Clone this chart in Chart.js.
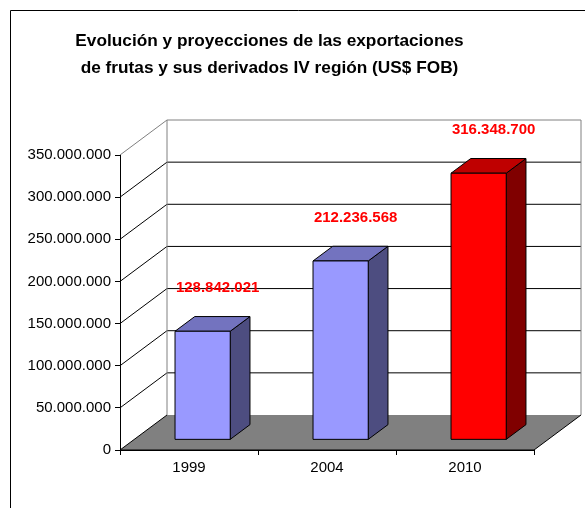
<!DOCTYPE html>
<html><head><meta charset="utf-8">
<script src="https://cdn.jsdelivr.net/npm/chart.js@4.4.1/dist/chart.umd.min.js"></script>
<style>html,body{margin:0;padding:0;background:#fff}#wrap{width:585px;height:508px;position:relative}</style>
</head><body><div id="wrap"><canvas id="c" width="585" height="508"></canvas></div>
<script>
const categories = ['1999', '2004', '2010'];
const exportValues = [128842021, 212236568, 316348700];
const yTickValues = [0, 50000000, 100000000, 150000000, 200000000, 250000000, 300000000, 350000000];
const titleLines = ['Evolución y proyecciones de las exportaciones', 'de frutas y sus derivados IV región (US$ FOB)'];

const FONT = '"Liberation Sans", Arial, Helvetica, sans-serif';
const DEPTH = {x: 47, y: -35};          // 3D depth vector of the plot box
const BAR_FRONT = 0.29, BAR_BACK = 0.71; // bar depth fractions
const barStyles = [
  {front: '#9999FF', top: '#7373BF', side: '#4D4D80'},
  {front: '#9999FF', top: '#7373BF', side: '#4D4D80'},
  {front: '#FF0000', top: '#BF0000', side: '#800000'}
];
const fmt = v => String(Math.round(v)).replace(/\B(?=(\d{3})+(?!\d))/g, '.');

const box3d = {
  id: 'box3d',
  beforeDraw(chart) {
    const ctx = chart.ctx, a = chart.chartArea, ys = chart.scales.y;
    ctx.save();
    ctx.fillStyle = '#fff';
    ctx.fillRect(0, 0, chart.width, chart.height);
    // outer frame
    ctx.strokeStyle = '#000'; ctx.lineWidth = 1;
    ctx.beginPath(); ctx.moveTo(10.5, chart.height + 5); ctx.lineTo(10.5, 10.5); ctx.lineTo(chart.width + 5, 10.5); ctx.stroke();
    const dx = DEPTH.x, dy = DEPTH.y;
    const top = ys.getPixelForValue(ys.max), bot = ys.getPixelForValue(0);
    // back wall
    ctx.fillStyle = '#fff';
    ctx.fillRect(a.left + dx, top + dy, a.right - a.left, bot - top);
    // gridlines on back wall + side wall
    yTickValues.forEach(v => {
      const py = ys.getPixelForValue(v);
      if (v === 0) return;
      ctx.strokeStyle = v === ys.max ? '#808080' : '#000';
      ctx.beginPath();
      ctx.moveTo(a.left, py); ctx.lineTo(a.left + dx, py + dy); ctx.lineTo(a.right + dx, py + dy);
      ctx.stroke();
    });
    // back wall edges
    ctx.strokeStyle = '#808080';
    ctx.beginPath();
    ctx.moveTo(a.left + dx, bot + dy); ctx.lineTo(a.left + dx, top + dy);
    ctx.moveTo(a.right + dx, bot + dy); ctx.lineTo(a.right + dx, top + dy);
    ctx.stroke();
    // floor
    ctx.fillStyle = '#808080';
    ctx.beginPath();
    ctx.moveTo(a.left, bot); ctx.lineTo(a.right, bot); ctx.lineTo(a.right + dx, bot + dy); ctx.lineTo(a.left + dx, bot + dy); ctx.closePath();
    ctx.fill();
    ctx.strokeStyle = '#000';
    ctx.beginPath();
    ctx.moveTo(a.left + dx, bot + dy); ctx.lineTo(a.left, bot); ctx.lineTo(a.right, bot); ctx.lineTo(a.right + dx, bot + dy);
    ctx.stroke();
    ctx.restore();
  },
  afterDatasetsDraw(chart) {
    const ctx = chart.ctx, meta = chart.getDatasetMeta(0);
    const fx = DEPTH.x * BAR_FRONT, fy = DEPTH.y * BAR_FRONT;
    const ddx = DEPTH.x * (BAR_BACK - BAR_FRONT), ddy = DEPTH.y * (BAR_BACK - BAR_FRONT);
    ctx.save();
    ctx.lineWidth = 1; ctx.strokeStyle = '#000'; ctx.lineJoin = 'miter';
    meta.data.forEach((el, i) => {
      const p = el.getProps(['x', 'y', 'base', 'width'], true);
      const L = p.x - p.width / 2 + fx, R = p.x + p.width / 2 + fx;
      const T = p.y + fy, B = p.base + fy;
      const st = barStyles[i];
      // side
      ctx.fillStyle = st.side;
      ctx.beginPath(); ctx.moveTo(R, T); ctx.lineTo(R + ddx, T + ddy); ctx.lineTo(R + ddx, B + ddy); ctx.lineTo(R, B); ctx.closePath();
      ctx.fill(); ctx.stroke();
      // top
      ctx.fillStyle = st.top;
      ctx.beginPath(); ctx.moveTo(L, T); ctx.lineTo(R, T); ctx.lineTo(R + ddx, T + ddy); ctx.lineTo(L + ddx, T + ddy); ctx.closePath();
      ctx.fill(); ctx.stroke();
      // front
      ctx.fillStyle = st.front;
      ctx.beginPath(); ctx.rect(L, T, R - L, B - T);
      ctx.fill(); ctx.stroke();
      // value label
      ctx.fillStyle = '#FF0000';
      ctx.font = 'bold 15px ' + FONT;
      ctx.textAlign = 'center'; ctx.textBaseline = 'middle';
      ctx.fillText(fmt(chart.data.datasets[0].data[i]), (L + R) / 2 + 15, T - 43);
    });
    ctx.restore();
  }
};

new Chart(document.getElementById('c'), {
  type: 'bar',
  data: {
    labels: categories,
    datasets: [{
      data: exportValues,
      backgroundColor: 'rgba(0,0,0,0)',
      borderWidth: 0,
      categoryPercentage: 1,
      barPercentage: 0.4
    }]
  },
  options: {
    responsive: false,
    animation: false,
    devicePixelRatio: 1,
    layout: {padding: {left: 5, right: 51, top: 0, bottom: 0}},
    plugins: {
      legend: {display: false},
      tooltip: {enabled: false},
      title: {
        display: true,
        text: titleLines,
        color: '#000',
        font: {family: FONT, size: 17.25, weight: 'bold', lineHeight: 27.5 / 17.25},
        padding: {top: 27.25, bottom: 72.75}
      }
    },
    scales: {
      x: {
        offset: true,
        grid: {display: true, offset: true, drawOnChartArea: false, drawTicks: true, tickLength: 5, color: '#000'},
        border: {display: true, color: '#000', width: 1},
        ticks: {color: '#000', font: {family: FONT, size: 15}, padding: 4, maxRotation: 0},
        afterFit(s) { s.height = 58; }
      },
      y: {
        min: 0,
        max: 350000000,
        afterBuildTicks(s) { s.ticks = yTickValues.map(v => ({value: v})); },
        grid: {display: true, drawOnChartArea: false, drawTicks: true, tickLength: 5, color: '#000'},
        border: {display: true, color: '#000', width: 1},
        ticks: {color: '#000', font: {family: FONT, size: 15}, padding: 4, callback: v => fmt(v)},
        afterFit(s) { s.width = 115; }
      }
    }
  },
  plugins: [box3d]
});
</script>
</body></html>
